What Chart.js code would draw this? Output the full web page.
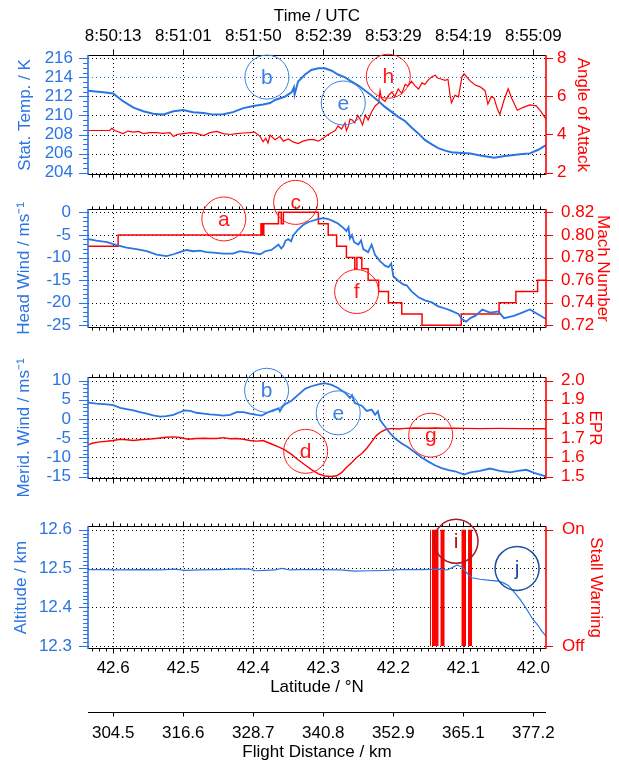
<!DOCTYPE html>
<html lang="en">
<head>
<meta charset="UTF-8">
<title>Flight profile</title>
<script src="https://cdn.jsdelivr.net/npm/chart.js"></script>
<style>
  html, body { margin: 0; padding: 0; background: #fff; overflow: hidden; }
  #wrap { position: relative; width: 619px; height: 760px; }
  #wrap canvas { position: absolute; left: 0; }
</style>
</head>
<body>
<div id="wrap">
  <canvas id="c1" width="619" height="200" style="top:0px"></canvas>
  <canvas id="c2" width="619" height="185" style="top:170px"></canvas>
  <canvas id="c3" width="619" height="156" style="top:350px"></canvas>
  <canvas id="c4" width="619" height="200" style="top:500px"></canvas>
  <canvas id="c5" width="619" height="70" style="top:700px"></canvas>
</div>
<script>
// ---- axis ticks ----
var latTicks = [42.6, 42.5, 42.4, 42.3, 42.2, 42.1, 42.0];
var timeLabels = ['8:50:13', '8:51:01', '8:51:50', '8:52:39', '8:53:29', '8:54:19', '8:55:09'];
var distLabels = ['304.5', '316.6', '328.7', '340.8', '352.9', '365.1', '377.2'];
var tempTicks = [204, 206, 208, 210, 212, 214, 216];
var aoaTicks = [2, 4, 6, 8];
var hwTicks = [0, -5, -10, -15, -20, -25];
var machTicks = [0.72, 0.74, 0.76, 0.78, 0.80, 0.82];
var mwTicks = [10, 5, 0, -5, -10, -15];
var eprTicks = [1.5, 1.6, 1.7, 1.8, 1.9, 2.0];
var altTicks = [12.3, 12.4, 12.5, 12.6];
var stallTicks = [0, 1];
var stallLabels = ['Off', 'On'];

// ---- static temperature (K) ----
var tempLat = [42.636, 42.614, 42.600, 42.586, 42.571, 42.557, 42.543, 42.529, 42.514, 42.500, 42.486, 42.471, 42.457, 42.443, 42.429, 42.414, 42.400, 42.386, 42.376, 42.369, 42.355, 42.345, 42.342, 42.341, 42.336, 42.326, 42.317, 42.307, 42.298, 42.288, 42.279, 42.269, 42.260, 42.250, 42.240, 42.231, 42.221, 42.212, 42.202, 42.193, 42.183, 42.174, 42.164, 42.155, 42.145, 42.136, 42.126, 42.117, 42.102, 42.090, 42.076, 42.056, 42.041, 42.028, 42.016, 42.005, 41.993, 41.982];
var tempVal = [212.6, 212.45, 212.3, 211.5, 210.83, 210.44, 210.18, 210.09, 210.44, 210.57, 210.35, 210.25, 210.09, 210.12, 210.35, 210.77, 211.0, 211.15, 211.3, 211.63, 211.96, 212.45, 212.95, 212.2, 213.57, 214.3, 214.77, 214.96, 214.96, 214.7, 214.3, 214.0, 213.57, 213.15, 212.6, 212.1, 211.5, 210.9, 210.35, 209.86, 209.4, 208.73, 208.09, 207.44, 206.96, 206.57, 206.31, 206.15, 206.06, 206.0, 205.8, 205.55, 205.75, 205.86, 205.95, 206.02, 206.4, 206.9];

// ---- angle of attack ----
var aoaLat = [42.636, 42.614, 42.605, 42.602, 42.598, 42.586, 42.579, 42.571, 42.564, 42.557, 42.548, 42.538, 42.529, 42.519, 42.514, 42.509, 42.500, 42.490, 42.481, 42.471, 42.462, 42.452, 42.443, 42.433, 42.424, 42.414, 42.405, 42.398, 42.390, 42.386, 42.382, 42.379, 42.376, 42.369, 42.362, 42.357, 42.350, 42.343, 42.336, 42.329, 42.321, 42.314, 42.307, 42.300, 42.293, 42.288, 42.283, 42.279, 42.274, 42.269, 42.267, 42.264, 42.262, 42.259, 42.255, 42.251, 42.248, 42.244, 42.240, 42.236, 42.231, 42.226, 42.221, 42.219, 42.217, 42.212, 42.207, 42.202, 42.198, 42.193, 42.188, 42.183, 42.179, 42.174, 42.169, 42.164, 42.159, 42.155, 42.150, 42.145, 42.140, 42.136, 42.131, 42.126, 42.122, 42.119, 42.117, 42.112, 42.107, 42.102, 42.099, 42.090, 42.083, 42.076, 42.069, 42.065, 42.060, 42.056, 42.052, 42.048, 42.042, 42.036, 42.031, 42.023, 42.016, 42.009, 42.005, 41.996, 41.989, 41.982];
var aoaVal = [4.21, 4.21, 4.21, 4.32, 4.21, 4.05, 4.18, 4.13, 4.16, 4.05, 4.1, 4.1, 4.06, 4.1, 3.9, 4.0, 4.05, 4.1, 4.06, 3.94, 4.1, 4.16, 4.05, 4.0, 4.05, 4.08, 4.1, 4.13, 3.89, 3.62, 3.8, 3.56, 3.97, 3.73, 3.89, 3.65, 3.77, 3.61, 3.52, 3.65, 3.73, 3.73, 3.65, 3.81, 4.0, 4.1, 4.21, 4.45, 4.29, 4.61, 4.2, 4.45, 4.8, 4.77, 4.61, 5.0, 4.85, 4.5, 5.02, 4.77, 5.18, 5.5, 5.66, 6.3, 5.9, 5.74, 6.06, 6.23, 5.98, 6.39, 6.15, 6.63, 6.55, 6.79, 6.55, 6.39, 6.71, 6.63, 6.87, 7.03, 7.11, 6.95, 6.9, 6.84, 6.9, 6.06, 5.66, 6.06, 5.98, 7.03, 7.19, 6.8, 6.6, 6.5, 6.3, 5.6, 6.0, 5.9, 5.4, 5.05, 5.8, 6.4, 5.9, 5.27, 5.4, 5.5, 5.55, 5.5, 5.2, 4.8];

// ---- head wind (m/s) ----
var hwLat = [42.636, 42.624, 42.609, 42.595, 42.581, 42.567, 42.552, 42.538, 42.524, 42.514, 42.505, 42.495, 42.486, 42.476, 42.467, 42.457, 42.443, 42.429, 42.419, 42.410, 42.400, 42.390, 42.383, 42.374, 42.364, 42.360, 42.357, 42.354, 42.350, 42.346, 42.343, 42.336, 42.329, 42.321, 42.314, 42.307, 42.300, 42.293, 42.286, 42.279, 42.271, 42.267, 42.264, 42.262, 42.259, 42.256, 42.250, 42.246, 42.243, 42.236, 42.231, 42.226, 42.219, 42.214, 42.212, 42.207, 42.203, 42.200, 42.193, 42.186, 42.181, 42.174, 42.164, 42.155, 42.145, 42.136, 42.126, 42.117, 42.107, 42.102, 42.096, 42.090, 42.082, 42.073, 42.062, 42.050, 42.042, 42.028, 42.016, 42.005, 41.993, 41.982];
var hwVal = [-5.93, -6.27, -6.6, -7.27, -7.8, -8.13, -8.6, -9.33, -9.67, -9.27, -8.8, -8.33, -8.6, -8.47, -8.8, -8.93, -9.13, -9.13, -8.6, -8.8, -9.0, -9.27, -8.6, -8.33, -7.13, -8.0, -7.47, -6.3, -5.93, -6.4, -5.13, -3.8, -2.8, -2.13, -1.8, -1.47, -1.27, -1.47, -1.93, -2.47, -3.47, -4.13, -3.3, -5.8, -5.0, -6.6, -7.13, -6.2, -8.13, -8.8, -7.13, -9.47, -10.8, -11.5, -11.8, -12.13, -11.3, -14.13, -15.13, -15.93, -16.13, -17.47, -18.8, -19.47, -19.93, -20.8, -21.27, -21.8, -22.47, -23.6, -24.2, -23.4, -22.8, -21.5, -22.2, -21.9, -23.4, -22.9, -22.2, -21.5, -22.6, -23.6];

// ---- Mach number (each value holds until the next latitude) ----
var machLat = [42.636, 42.593, 42.389, 42.387, 42.385, 42.364, 42.360, 42.357, 42.307, 42.293, 42.281, 42.267, 42.255, 42.252, 42.245, 42.236, 42.221, 42.207, 42.188, 42.159, 42.103, 42.049, 42.025, 41.994, 41.982];
var machVal = [0.79, 0.80, 0.81, 0.80, 0.81, 0.82, 0.81, 0.82, 0.81, 0.80, 0.79, 0.78, 0.77, 0.78, 0.77, 0.76, 0.75, 0.74, 0.73, 0.72, 0.73, 0.74, 0.75, 0.76, 0.76];

// ---- meridional wind (m/s) ----
var mwLat = [42.636, 42.624, 42.609, 42.600, 42.590, 42.581, 42.571, 42.562, 42.552, 42.543, 42.533, 42.524, 42.514, 42.505, 42.498, 42.490, 42.481, 42.471, 42.462, 42.452, 42.443, 42.433, 42.424, 42.414, 42.405, 42.395, 42.388, 42.381, 42.374, 42.364, 42.362, 42.359, 42.355, 42.345, 42.336, 42.326, 42.317, 42.307, 42.298, 42.288, 42.279, 42.269, 42.262, 42.259, 42.255, 42.245, 42.238, 42.231, 42.226, 42.222, 42.219, 42.212, 42.205, 42.198, 42.188, 42.179, 42.169, 42.159, 42.150, 42.140, 42.131, 42.121, 42.112, 42.099, 42.090, 42.076, 42.062, 42.048, 42.033, 42.022, 42.010, 41.999, 41.982];
var mwVal = [4.26, 3.99, 3.78, 3.58, 2.9, 2.57, 2.23, 1.76, 1.42, 0.95, 0.61, 0.74, 1.08, 1.76, 2.23, 2.09, 1.62, 1.42, 1.22, 1.08, 0.88, 1.08, 1.76, 1.76, 1.42, 1.08, 0.88, 1.55, 2.09, 2.77, 2.0, 3.0, 3.78, 4.8, 6.28, 7.84, 8.51, 8.99, 9.32, 8.85, 8.04, 6.82, 5.47, 6.2, 4.12, 3.45, 2.09, 2.43, 1.08, 2.0, -0.27, -1.96, -3.65, -5.0, -6.35, -7.36, -8.72, -10.07, -11.08, -12.09, -12.77, -13.31, -13.58, -14.46, -13.87, -13.5, -12.87, -13.5, -13.87, -13.5, -13.2, -14.0, -14.9];

// ---- engine pressure ratio ----
var eprLat = [42.636, 42.629, 42.619, 42.609, 42.600, 42.590, 42.581, 42.571, 42.562, 42.552, 42.543, 42.533, 42.524, 42.514, 42.505, 42.493, 42.481, 42.471, 42.462, 42.452, 42.443, 42.433, 42.424, 42.414, 42.405, 42.395, 42.386, 42.374, 42.364, 42.355, 42.345, 42.336, 42.326, 42.317, 42.307, 42.298, 42.288, 42.281, 42.274, 42.267, 42.259, 42.252, 42.245, 42.238, 42.231, 42.224, 42.217, 42.209, 42.202, 42.193, 42.183, 42.169, 42.155, 42.140, 42.126, 42.112, 42.099, 42.076, 42.048, 42.019, 41.982];
var eprVal = [1.665, 1.675, 1.681, 1.684, 1.688, 1.695, 1.692, 1.688, 1.692, 1.695, 1.697, 1.701, 1.705, 1.707, 1.704, 1.695, 1.699, 1.700, 1.699, 1.699, 1.703, 1.697, 1.699, 1.695, 1.688, 1.685, 1.688, 1.670, 1.655, 1.639, 1.615, 1.588, 1.561, 1.537, 1.515, 1.504, 1.501, 1.505, 1.521, 1.548, 1.575, 1.601, 1.621, 1.648, 1.681, 1.715, 1.735, 1.748, 1.751, 1.748, 1.751, 1.753, 1.752, 1.753, 1.752, 1.752, 1.751, 1.750, 1.751, 1.750, 1.749];

// ---- altitude (km) ----
var altLat = [42.636, 42.619, 42.590, 42.562, 42.533, 42.512, 42.498, 42.476, 42.448, 42.419, 42.405, 42.398, 42.383, 42.369, 42.359, 42.348, 42.333, 42.305, 42.276, 42.255, 42.233, 42.212, 42.190, 42.162, 42.133, 42.123, 42.116, 42.109, 42.102, 42.096, 42.088, 42.076, 42.062, 42.050, 42.042, 42.036, 42.028, 42.019, 42.010, 42.002, 41.993, 41.988, 41.982];
var altVal = [12.497, 12.497, 12.496, 12.497, 12.496, 12.498, 12.495, 12.496, 12.497, 12.499, 12.498, 12.494, 12.495, 12.496, 12.500, 12.496, 12.497, 12.497, 12.496, 12.493, 12.494, 12.495, 12.497, 12.497, 12.498, 12.496, 12.502, 12.509, 12.504, 12.490, 12.476, 12.472, 12.469, 12.467, 12.462, 12.456, 12.440, 12.420, 12.396, 12.372, 12.352, 12.338, 12.325];

// ---- stall warning (0 off / 1 on, each value holds until the next latitude) ----
var stallLat = [42.636, 42.1476, 42.1462, 42.1448, 42.1355, 42.1326, 42.1269, 42.1026, 42.0962, 42.0933, 42.0876, 41.982];
var stallVal = [0, 1, 0, 1, 0, 1, 0, 1, 0, 1, 0, 0];

// ---- circled letters (latitude, value on the left axis) ----
var notes1 = [{lat: 42.3805, val: 214.03, txt: 'b', c: 'blue'}, {lat: 42.2715, val: 211.31, txt: 'e', c: 'blue'}, {lat: 42.2072, val: 214.12, txt: 'h', c: 'red'}];
var notes2 = [{lat: 42.442, val: -1.46, txt: 'a', c: 'red'}, {lat: 42.3395, val: 2.2, txt: 'c', c: 'red'}, {lat: 42.2524, val: -17.52, txt: 'f', c: 'red'}];
var notes3 = [{lat: 42.381, val: 7.46, txt: 'b', c: 'blue'}, {lat: 42.2787, val: 1.6, txt: 'e', c: 'blue'}, {lat: 42.3252, val: -8.4, txt: 'd', c: 'red'}, {lat: 42.1466, val: -4.2, txt: 'g', c: 'red'}];
var notes4 = [{lat: 42.1105, val: 12.570, txt: 'i', c: 'dred'}, {lat: 42.0233, val: 12.500, txt: 'j', c: 'dblue'}];

var BLUE = '#2b74e3', RED = '#ff0000';
var NOTE_COL = {blue: '#3a7fe2', red: '#ff1a1a', dred: '#a81c1c', dblue: '#1f4f9e'};
var LAT_MIN = 41.982, LAT_MAX = 42.636;
var FONT = '"Liberation Sans", Arial, sans-serif';

Chart.defaults.font.family = FONT;
Chart.defaults.font.size = 17;
Chart.defaults.color = '#000';

function pts(xs, ys) { return xs.map(function (x, i) { return {x: x, y: ys[i]}; }); }

function seg(ctx, x1, y1, x2, y2) { ctx.beginPath(); ctx.moveTo(x1, y1); ctx.lineTo(x2, y2); ctx.stroke(); }

function steps(min, max, step) {
  var out = [];
  for (var k = Math.ceil(min / step - 1e-9); k * step <= max + 1e-9; k++) out.push(k * step);
  return out;
}

function setTicks(list) { return function (s) { s.ticks = list.map(function (v) { return {value: v}; }); }; }
function setWidth(w) { return function (s) { s.width = w; }; }
function setHeight(h) { return function (s) { s.height = h; }; }

// dotted grid, frame, tick marks and circled letters
function makeDecor(cfg) {
  return {
    id: 'decor',
    beforeDatasetsDraw: function (chart) {
      var ctx = chart.ctx, a = chart.chartArea, sx = chart.scales.x, sy = chart.scales.y;
      ctx.save();
      ctx.lineWidth = 1;
      ctx.setLineDash([1, 3]);
      latTicks.forEach(function (v) {
        var x = Math.round(sx.getPixelForValue(v)) + 0.5;
        ctx.strokeStyle = v === cfg.vBlue ? BLUE : '#000';
        seg(ctx, x, a.top, x, a.bottom);
      });
      cfg.leftMajor.forEach(function (v) {
        var y = Math.round(sy.getPixelForValue(v)) + 0.5;
        ctx.strokeStyle = v === cfg.hBlue ? BLUE : '#000';
        seg(ctx, a.left, y, a.right, y);
      });
      ctx.restore();
    },
    afterDatasetsDraw: function (chart) {
      var ctx = chart.ctx, a = chart.chartArea, sx = chart.scales.x, sy = chart.scales.y, sy2 = chart.scales.y2;
      var top = Math.round(a.top) + 0.5, bot = Math.round(a.bottom) - 0.5;
      ctx.save();
      ctx.lineWidth = 1;
      ctx.strokeStyle = '#000';
      seg(ctx, a.left, top, a.right, top);
      seg(ctx, a.left, bot, a.right, bot);
      steps(LAT_MIN, LAT_MAX, 0.01).forEach(function (v) {
        var x = Math.round(sx.getPixelForValue(v)) + 0.5;
        var major = latTicks.some(function (t) { return Math.abs(t - v) < 1e-6; });
        var len = major ? 5 : 3;
        seg(ctx, x, bot, x, bot + len);
        if (cfg.topMinor) seg(ctx, x, top, x, top - len);
        else if (major) seg(ctx, x, top, x, top - 6);
      });
      // left axis
      ctx.strokeStyle = BLUE;
      steps(sy.min, sy.max, cfg.leftMinor).forEach(function (v) {
        var y = Math.round(sy.getPixelForValue(v)) + 0.5;
        var major = cfg.leftMajor.some(function (t) { return Math.abs(t - v) < 1e-6; });
        seg(ctx, a.left, y, a.left - (major ? 9 : 5), y);
      });
      ctx.lineWidth = 1.6;
      seg(ctx, a.left, a.top, a.left, a.bottom);
      // right axis
      ctx.strokeStyle = RED;
      ctx.lineWidth = 1;
      cfg.rightMajor.forEach(function (v) {
        var y = Math.round(sy2.getPixelForValue(v)) + 0.5;
        seg(ctx, a.right, y, a.right + 7, y);
      });
      ctx.lineWidth = 1.6;
      seg(ctx, a.right, a.top, a.right, a.bottom);
      ctx.restore();
    },
    afterDraw: function (chart) {
      var ctx = chart.ctx, sx = chart.scales.x, sy = chart.scales.y;
      ctx.save();
      cfg.notes.forEach(function (n) {
        var x = sx.getPixelForValue(n.lat), y = sy.getPixelForValue(n.val);
        var col = NOTE_COL[n.c];
        ctx.strokeStyle = col;
        ctx.fillStyle = col;
        ctx.lineWidth = (n.c === 'dred' || n.c === 'dblue') ? 1.5 : 1;
        ctx.beginPath();
        ctx.arc(x, y, 22, 0, Math.PI * 2);
        ctx.stroke();
        ctx.font = '21px ' + FONT;
        ctx.textAlign = 'center';
        ctx.textBaseline = 'middle';
        ctx.fillText(n.txt, x, y + 1);
      });
      ctx.restore();
    }
  };
}

function xScale(show) {
  return {
    type: 'linear', reverse: true, min: LAT_MIN, max: LAT_MAX, display: show,
    grid: {display: false, drawTicks: false}, border: {display: false}
  };
}

function yScale(pos, min, max, list, fmt, color, width, pad, title, tpad) {
  return {
    type: 'linear', position: pos, min: min, max: max,
    afterBuildTicks: setTicks(list), afterFit: setWidth(width),
    grid: {display: false, drawTicks: false}, border: {display: false},
    ticks: {color: color, padding: pad, autoSkip: false, callback: fmt},
    title: {display: true, text: title, color: color, padding: {top: tpad, bottom: 0}}
  };
}

function lineSet(lat, val, color, width, axis) {
  return {data: pts(lat, val), borderColor: color, borderWidth: width, yAxisID: axis, pointRadius: 0, tension: 0, fill: false};
}

function baseOptions(padding, scales) {
  return {
    responsive: false, animation: false, events: [],
    layout: {padding: padding},
    plugins: {legend: {display: false}, tooltip: {enabled: false}},
    scales: scales
  };
}

function f0(v) { return String(v); }
function f1(v) { return v.toFixed(1); }
function f2(v) { return v.toFixed(2); }

// panel 1: temperature and angle of attack, with time axis on top
var top1 = xScale(true);
top1.axis = 'x';
top1.position = 'top';
top1.afterBuildTicks = setTicks(latTicks);
top1.afterFit = setHeight(55);
top1.ticks = {autoSkip: false, maxRotation: 0, padding: 8.8, callback: function (v, i) { return timeLabels[i]; }};
top1.title = {display: true, text: 'Time / UTC', padding: {top: 5.8, bottom: 0}};

new Chart(document.getElementById('c1'), {
  type: 'line',
  data: {datasets: [lineSet(tempLat, tempVal, BLUE, 2, 'y'), lineSet(aoaLat, aoaVal, RED, 1.2, 'y2')]},
  options: baseOptions({top: 0, bottom: 15, left: 0, right: 0}, {
    x: xScale(false), xt: top1,
    y: yScale('left', 203.77, 216.35, tempTicks, f0, BLUE, 88, 15, 'Stat. Temp. / K', 14.8),
    y2: yScale('right', 1.884, 8.174, aoaTicks, f0, RED, 73, 11, 'Angle of Attack', 25.8)
  }),
  plugins: [makeDecor({leftMajor: tempTicks, leftMinor: 0.5, rightMajor: aoaTicks, hBlue: 214, vBlue: 42.2, topMinor: false, notes: notes1})]
});

// panel 2: head wind and Mach number
var mach = lineSet(machLat, machVal, RED, 1.5, 'y2');
mach.stepped = 'before';
new Chart(document.getElementById('c2'), {
  type: 'line',
  data: {datasets: [lineSet(hwLat, hwVal, BLUE, 1.8, 'y'), mach]},
  options: baseOptions({top: 39, bottom: 15, left: 0, right: 0}, {
    x: xScale(false),
    y: yScale('left', -25.54, 0.742, hwTicks, f0, BLUE, 88, 17, 'Head Wind / ms\u207B\u00B9', 14.3),
    y2: yScale('right', 0.71783, 0.82297, machTicks, f2, RED, 73, 15, 'Mach Number', 5.8)
  }),
  plugins: [makeDecor({leftMajor: hwTicks, leftMinor: 1, rightMajor: machTicks, topMinor: true, notes: notes2})]
});

// panel 3: meridional wind and EPR
new Chart(document.getElementById('c3'), {
  type: 'line',
  data: {datasets: [lineSet(mwLat, mwVal, BLUE, 1.8, 'y'), lineSet(eprLat, eprVal, RED, 1.4, 'y2')]},
  options: baseOptions({top: 13, bottom: 11, left: 0, right: 0}, {
    x: xScale(false),
    y: yScale('left', -15.54, 10.86, mwTicks, f0, BLUE, 88, 17, 'Merid. Wind / ms\u207B\u00B9', 14.3),
    y2: yScale('right', 1.4892, 2.0172, eprTicks, f1, RED, 73, 15, 'EPR', 13.8)
  }),
  plugins: [makeDecor({leftMajor: mwTicks, leftMinor: 1, rightMajor: eprTicks, topMinor: true, notes: notes3})]
});

// panel 4: altitude and stall warning, latitude axis below
var lat4 = xScale(true);
lat4.position = 'bottom';
lat4.afterBuildTicks = setTicks(latTicks);
lat4.afterFit = setHeight(51);
lat4.ticks = {autoSkip: false, maxRotation: 0, padding: 8.8, callback: f1};
lat4.title = {display: true, text: 'Latitude / \u00B0N', padding: {top: 0, bottom: 2.5}};

var stall = {data: pts(stallLat, stallVal), yAxisID: 'y2', stepped: 'before', pointRadius: 0,
  borderColor: 'rgba(0,0,0,0)', borderWidth: 1, backgroundColor: RED, fill: 'origin'};
new Chart(document.getElementById('c4'), {
  type: 'line',
  data: {datasets: [lineSet(altLat, altVal, BLUE, 1.2, 'y'), stall]},
  options: baseOptions({top: 18, bottom: 0, left: 0, right: 0}, {
    x: lat4,
    y: yScale('left', 12.292, 12.609, altTicks, f1, BLUE, 88, 16, 'Altitude / km', 10.8),
    y2: yScale('right', -0.0266, 1.0298, stallTicks, function (v, i) { return stallLabels[i]; }, RED, 73, 16, 'Stall Warning', 12.8)
  }),
  plugins: [makeDecor({leftMajor: altTicks, leftMinor: 0.01, rightMajor: stallTicks, topMinor: true, notes: notes4})]
});

// flight distance axis
var dist = xScale(true);
dist.position = 'bottom';
dist.afterBuildTicks = setTicks(latTicks);
dist.afterFit = setHeight(58);
dist.ticks = {autoSkip: false, maxRotation: 0, padding: 11.1, callback: function (v, i) { return distLabels[i]; }};
dist.title = {display: true, text: 'Flight Distance / km', padding: {top: 0, bottom: 7.8}};

new Chart(document.getElementById('c5'), {
  type: 'line',
  data: {datasets: []},
  options: baseOptions({top: 0, bottom: 0, left: 88, right: 73}, {x: dist, y: {display: false}}),
  plugins: [{
    id: 'distAxis',
    afterDraw: function (chart) {
      var ctx = chart.ctx, a = chart.chartArea, sx = chart.scales.x;
      var y = Math.round(a.bottom) + 0.5;
      ctx.save();
      ctx.strokeStyle = '#000';
      ctx.lineWidth = 1;
      seg(ctx, a.left, y, a.right, y);
      latTicks.forEach(function (v) {
        var x = Math.round(sx.getPixelForValue(v)) + 0.5;
        seg(ctx, x, y, x, y + 4);
      });
      ctx.restore();
    }
  }]
});
</script>
</body>
</html>
